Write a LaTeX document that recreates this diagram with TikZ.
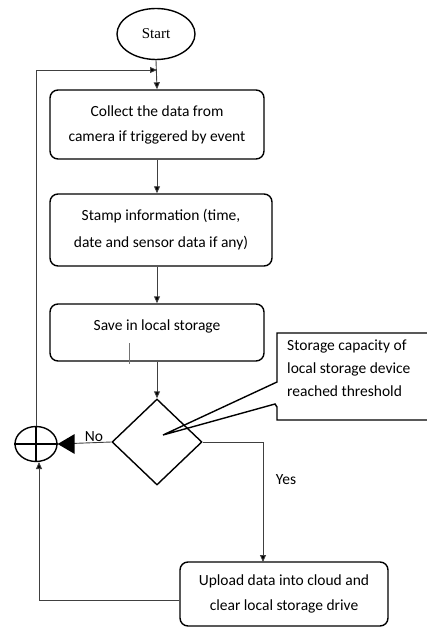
\documentclass[tikz,border=0pt]{standalone}
\usepackage{fontspec}
\setmainfont{Carlito}
\newfontfamily\startfont{Liberation Serif}
\usetikzlibrary{shapes.geometric,arrows.meta}
\begin{document}
\begin{tikzpicture}[x=1pt,y=-1pt,
  box/.style={draw=black,line width=1.4pt,rounded corners=8pt,inner sep=0pt,align=center,font=\fontsize{15.5}{25}\selectfont},
  txt/.style={inner sep=0pt,align=center,font=\fontsize{15.5}{25}\selectfont},
  conn/.style={draw=black!75,line width=0.9pt},
  arr/.style={conn,-{Triangle[length=7pt,width=6pt,fill=black]}}]
\useasboundingbox (0,0) rectangle (427,628);
% nodes
\node[draw,line width=1.4pt,ellipse,minimum width=78pt,minimum height=51pt,inner sep=0pt,font=\startfont\fontsize{15}{17}\selectfont] (start) at (156,34) {Start};
\node[box,minimum width=214pt,minimum height=69pt] (b1) at (157,124.5) {Collect the data from\\camera if triggered by event};
\node[box,minimum width=222pt,minimum height=72pt,font=\fontsize{15.5}{27}\selectfont] (b2) at (161,230) {Stamp information (time,\\date and sensor data if any)};
\node[box,minimum width=214pt,minimum height=57pt] (b3) at (157,332.5) {};
\node[txt] (b3t) at (157,326) {Save in local storage};
\node[draw,line width=1.4pt,diamond,minimum width=90pt,minimum height=86pt,inner sep=0pt] (dec) at (157,442) {};
\node[box,minimum width=208pt,minimum height=64pt] (b4) at (284,594) {Upload data into cloud and\\clear local storage drive};
\node[draw,line width=1.4pt,ellipse,minimum width=42pt,minimum height=35pt,inner sep=0pt] (sum) at (36,444) {};
\draw[line width=1.1pt] (sum.north) -- (sum.south) (sum.west) -- (sum.east);
% callout
\coordinate (tip) at (163,435);
\draw[line width=1.4pt] (440,333) -- (277,333) -- (277,382) -- (tip) -- (275,404) -- (277,407) -- (277,420) -- (440,420);
\node[inner sep=0pt,align=left,anchor=north west,font=\fontsize{15.5}{23}\selectfont] (callt) at (287,340) {Storage capacity of\\local storage device\\reached threshold};
% stray mark
\coordinate (m1) at (129,343);
\coordinate (m2) at (129,364);
\draw[conn,draw=black!55] (m1) -- (m2);
% connectors
\coordinate (loopc) at (157,70);
\draw[arr] (start.south) -- (b1.north);
\draw[arr] (b1.south) -- (b2.north -| b1.south);
\draw[arr] (b2.south -| b1.south) -- (b3.north);
\draw[arr] (b3.south) -- (dec.north);
\draw[conn] (dec.west) -- (sum.east);
\fill[black] (sum.east) -- ++(17,-10) -- ++(0,20) -- cycle;
\node[txt] (no) at (94,437) {No};
\draw[arr] (dec.east) -- (263,442) -- (263,562);
\node[txt] (yes) at (286,480) {Yes};
\draw[arr] (b4.west |- 0,600) -- (39,600) -- (39,462);
\draw[arr] (sum.north) -- (36,70) -- (loopc);
\end{tikzpicture}
\end{document}
